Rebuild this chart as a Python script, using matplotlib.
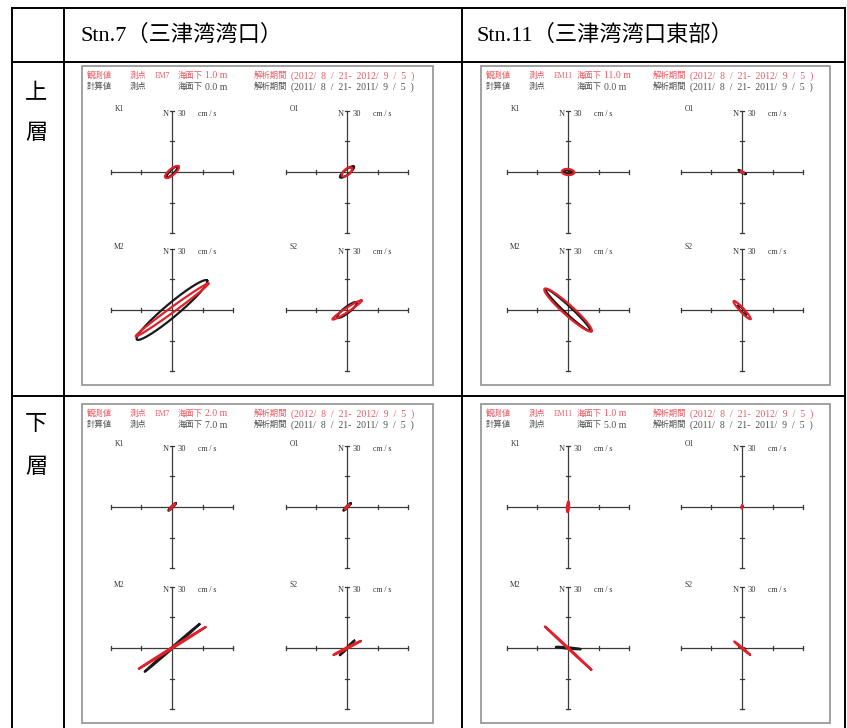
import numpy as np
import matplotlib
matplotlib.use("Agg")
import matplotlib.pyplot as plt
from matplotlib.patches import Rectangle

W, H, DPI = 847, 728, 100

constituents = ["K1", "O1", "M2", "S2"]
stations = ["Stn.7（三津湾湾口）", "Stn.11（三津湾湾口東部）"]
layers = ["上層", "下層"]
station_codes = ["EM7", "EM11"]

# depth below sea surface [m], indexed [station][layer]
obs_depths = [["1.0", "2.0"], ["11.0", "1.0"]]
calc_depths = [["0.0", "7.0"], ["0.0", "5.0"]]
obs_period = "(2012/  8  /  21-  2012/  9  /  5  )"
calc_period = "(2011/  8  /  21-  2011/  9  /  5  )"

# Tidal current ellipses: semi-major, semi-minor [cm/s], inclination [deg from east]
# order: K1, O1, M2, S2
# Stn.7 upper layer
obs_major_7u = [8.5, 6.0, 44.0, 17.0]
obs_minor_7u = [3.0, 3.0, 2.5, 2.0]
obs_incl_7u = [40, 40, 36, 33]
calc_major_7u = [7.5, 8.5, 45.0, 12.0]
calc_minor_7u = [2.0, 2.5, 6.5, 3.0]
calc_incl_7u = [45, 38, 40, 38]
# Stn.7 lower layer
obs_major_7l = [4.0, 3.0, 38.5, 15.0]
obs_minor_7l = [0.6, 0.5, 0.6, 0.6]
obs_incl_7l = [50, 45, 32, 27]
calc_major_7l = [5.0, 5.0, 35.5, 10.0]
calc_minor_7l = [0.8, 0.8, 0.7, 0.6]
calc_incl_7l = [45, 45, 41, 45]
# Stn.11 upper layer
obs_major_11u = [6.0, 1.5, 31.0, 12.0]
obs_minor_11u = [3.0, 0.5, 5.0, 2.0]
obs_incl_11u = [-5, -30, -42, -47]
calc_major_11u = [4.0, 4.0, 30.0, 6.0]
calc_minor_11u = [1.5, 0.6, 3.5, 1.5]
calc_incl_11u = [-10, -30, -43, -45]
# Stn.11 lower layer
obs_major_11l = [5.0, 1.5, 31.0, 10.0]
obs_minor_11l = [1.0, 0.5, 0.5, 0.5]
obs_incl_11l = [85, 80, -43, -40]
calc_major_11l = [1.0, 0.5, 12.0, 3.0]
calc_minor_11l = [0.5, 0.3, 0.6, 0.5]
calc_incl_11l = [60, 0, -5, -20]

obs_sets = [[(obs_major_7u, obs_minor_7u, obs_incl_7u), (obs_major_7l, obs_minor_7l, obs_incl_7l)],
            [(obs_major_11u, obs_minor_11u, obs_incl_11u), (obs_major_11l, obs_minor_11l, obs_incl_11l)]]
calc_sets = [[(calc_major_7u, calc_minor_7u, calc_incl_7u), (calc_major_7l, calc_minor_7l, calc_incl_7l)],
             [(calc_major_11u, calc_minor_11u, calc_incl_11u), (calc_major_11l, calc_minor_11l, calc_incl_11l)]]

RED = "#e0202a"
BLACK = "#1a1a1a"
TXT_RED = "#ea5a63"
TXT_GRAY = "#505050"
SERIF_JP = ["Liberation Serif", "Noto Sans CJK JP"]

fig = plt.figure(figsize=(W / DPI, H / DPI), dpi=DPI)
fig.patch.set_facecolor("white")

base = fig.add_axes([0, 0, 1, 1])
base.set_xlim(0, W)
base.set_ylim(H, 0)
base.axis("off")

# table grid
lw_tab = 1.4
base.plot([12, 12], [8, H], color="black", lw=lw_tab)
base.plot([845, 845], [8, H], color="black", lw=lw_tab)
base.plot([64, 64], [8, H], color="black", lw=lw_tab)
base.plot([462, 462], [8, H], color="black", lw=lw_tab)
for yy in [8, 62, 396]:
    base.plot([12, 845], [yy, yy], color="black", lw=lw_tab)

# header row
for x0, name in zip([80, 476], stations):
    base.text(x0, 35, name, fontsize=16, family=SERIF_JP, ha="left", va="center")

# row labels
for (y1, y2), lab in zip([(95, 134), (426, 468)], layers):
    base.text(36, y1, lab[0], fontsize=16, family=SERIF_JP, ha="center", va="center")
    base.text(36, y2, lab[1], fontsize=16, family=SERIF_JP, ha="center", va="center")

panel_x = [(82, 433), (481, 830)]
panel_y = [(66, 385), (404, 723)]
center_x = [[172, 347], [568, 742]]
center_y = [[172, 310], [507, 648]]

AX_HALF = 70          # px half-size of each ellipse axes
SCALE = 1.02          # px per cm/s
LIM = AX_HALF / SCALE


def ellipse_xy(a, b, inc):
    t = np.linspace(0, 2 * np.pi, 240)
    th = np.deg2rad(inc)
    x = a * np.cos(t) * np.cos(th) - b * np.sin(t) * np.sin(th)
    y = a * np.cos(t) * np.sin(th) + b * np.sin(t) * np.cos(th)
    return x, y


def label(x, y, s, color, fs=6):
    base.text(x, y, s, color=color, fontsize=fs, family=SERIF_JP, va="center", ha="left")


for s in range(2):
    for l in range(2):
        px0, px1 = panel_x[s]
        py0, py1 = panel_y[l]
        base.add_patch(Rectangle((px0, py0), px1 - px0, py1 - py0, fill=False,
                                 edgecolor="#9a9a9a", lw=1.3))
        # panel header lines
        y1, y2 = py0 + 10, py0 + 21
        label(px0 + 5, y1, "観測値", TXT_RED)
        label(px0 + 48, y1, "測点", TXT_RED)
        label(px0 + 73, y1, station_codes[s], TXT_RED, 5.5)
        label(px0 + 96, y1, "海面下", TXT_RED)
        label(px0 + 123, y1, obs_depths[s][l] + " m", TXT_RED, 7)
        label(px0 + 172, y1, "解析期間", TXT_RED)
        label(px0 + 209, y1, obs_period, TXT_RED, 7)
        label(px0 + 5, y2, "計算値", TXT_GRAY)
        label(px0 + 48, y2, "測点", TXT_GRAY)
        label(px0 + 96, y2, "海面下", TXT_GRAY)
        label(px0 + 123, y2, calc_depths[s][l] + " m", TXT_GRAY, 7)
        label(px0 + 172, y2, "解析期間", TXT_GRAY)
        label(px0 + 209, y2, calc_period, TXT_GRAY, 7)

        omaj, omin, oinc = obs_sets[s][l]
        cmaj, cmin, cinc = calc_sets[s][l]
        for k, con in enumerate(constituents):
            cx = center_x[s][k % 2]
            cy = center_y[l][k // 2]
            # labels above the vertical axis
            base.text(cx - 53, cy - 63, con, fontsize=5.5, family=SERIF_JP, color="#333",
                      ha="center", va="center")
            base.text(cx - 3, cy - 58, "N", fontsize=6, family=SERIF_JP, color="#333",
                      ha="right", va="center")
            base.text(cx + 6, cy - 58, "30", fontsize=6, family=SERIF_JP, color="#333",
                      ha="left", va="center")
            base.text(cx + 26, cy - 58, "cm / s", fontsize=5.5, family=SERIF_JP, color="#333",
                      ha="left", va="center")

            ax = fig.add_axes([(cx - AX_HALF) / W, 1 - (cy + AX_HALF) / H,
                               2 * AX_HALF / W, 2 * AX_HALF / H])
            ax.set_xlim(-LIM, LIM)
            ax.set_ylim(-LIM, LIM)
            ax.axis("off")
            ax.patch.set_alpha(0)
            ac = "#3a3a3a"
            ax.plot([-60, 60], [0, 0], color=ac, lw=0.9)
            ax.plot([0, 0], [-60, 60], color=ac, lw=0.9)
            for v in [-60, -30, 30, 60]:
                ax.plot([v, v], [-2, 2], color=ac, lw=0.9)
                ax.plot([-2, 2], [v, v], color=ac, lw=0.9)
            xb, yb = ellipse_xy(cmaj[k], cmin[k], cinc[k])
            ax.plot(xb, yb, color=BLACK, lw=1.6, solid_joinstyle="round")
            xr, yr = ellipse_xy(omaj[k], omin[k], oinc[k])
            ax.plot(xr, yr, color=RED, lw=1.6, solid_joinstyle="round")

fig.savefig("out.png", dpi=DPI)
